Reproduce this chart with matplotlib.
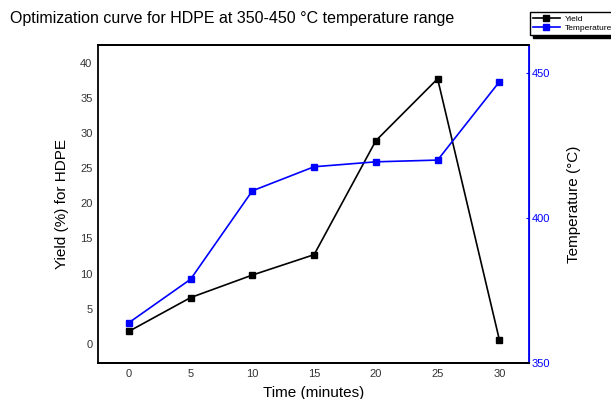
import matplotlib.pyplot as plt

plt.rcParams['font.family'] = ['Liberation Sans', 'DejaVu Sans']

# time in minutes
time = [0, 5, 10, 15, 20, 25, 30]
yield_pct = [1.8, 6.6, 9.8, 12.7, 28.9, 37.7, 0.6]
temperature = [363.9, 378.9, 409.4, 417.7, 419.4, 420.0, 447.0]

fig = plt.figure(figsize=(6.11, 3.99), dpi=100)
ax = fig.add_axes([98/611, 1-363/399, (529-98)/611, (363-45)/399])
ax2 = ax.twinx()

l1, = ax.plot(time, yield_pct, color='black', marker='s', markersize=5, linewidth=1.2, label='Yield')
l2, = ax2.plot(time, temperature, color='blue', marker='s', markersize=5, linewidth=1.2, label='Temperature')

ax.set_xlim(-2.5, 32.4)
ax.set_ylim(-2.7, 42.5)
ax2.set_ylim(350, 459.7)

ax.set_xticks(time)
ax.set_yticks(range(0, 41, 5))
ax2.set_yticks([350, 400, 450])

ax.tick_params(axis='both', labelsize=8, length=0, colors='#333333', pad=4)
ax2.tick_params(axis='y', labelsize=8, length=2, direction='in', colors='blue', pad=2)

for s in ['left', 'bottom', 'top']:
    ax.spines[s].set_linewidth(1.3)
ax2.spines['right'].set_color('blue')
ax2.spines['right'].set_linewidth(1.3)
ax2.spines['left'].set_visible(False)
ax2.spines['top'].set_linewidth(1.3)
ax2.spines['bottom'].set_linewidth(1.3)

ax.set_xlabel('Time (minutes)', fontsize=11, labelpad=5)
ax.set_ylabel('Yield (%) for HDPE', fontsize=11, labelpad=8)
ax2.set_ylabel('Temperature (°C)', fontsize=11, labelpad=12)

fig.text(10/611, 1-18/399, 'Optimization curve for HDPE at 350-450 °C temperature range',
         fontsize=11.5, va='center', ha='left')

leg = fig.legend(handles=[l1, l2], loc='upper left', bbox_to_anchor=(526/611, 1-8/399),
                 fontsize=6, frameon=True, fancybox=False, shadow={'color': 'black', 'alpha': 1},
                 handlelength=3.2, borderpad=0.35, labelspacing=0.15, handletextpad=0.6,
                 edgecolor='black', markerscale=0.8)
leg.get_frame().set_linewidth(1)

fig.savefig('out.png', dpi=100)
